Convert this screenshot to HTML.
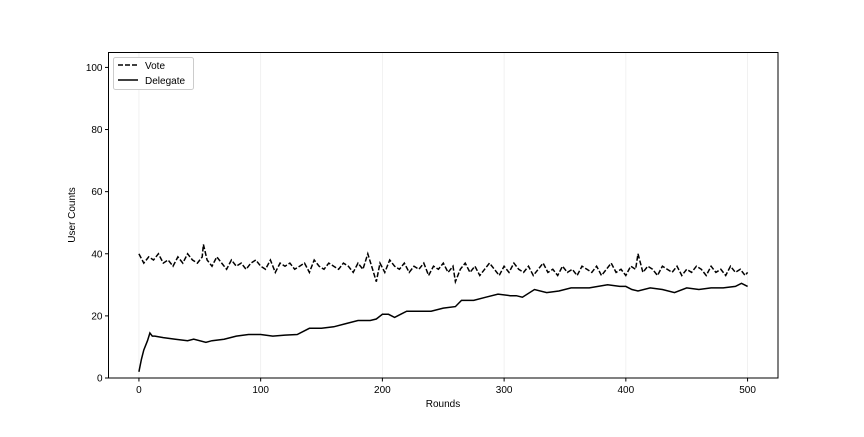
<!DOCTYPE html>
<html><head><meta charset="utf-8">
<style>
body{margin:0;background:#fff;font-family:"Liberation Sans",sans-serif;}
svg text{font-family:"Liberation Sans",sans-serif;font-size:10px;fill:#000;}
</style></head>
<body>
<svg id="chart" width="864" height="432">
<rect x="0" y="0" width="864" height="432" fill="#fff"/>
<g id="grid"></g>
<g id="series"></g>
<rect x="108.5" y="52.5" width="669.5" height="325.5" fill="none" stroke="#000" stroke-width="1"/>
<g id="xticks"></g>
<g id="yticks"></g>
<text x="443" y="407" text-anchor="middle">Rounds</text>
<text transform="translate(75,215) rotate(-90)" text-anchor="middle">User Counts</text>
<g>
<rect x="113.5" y="57.5" width="80" height="32" rx="2" fill="#fff" stroke="#ccc"/>
<g>
<line x1="118" y1="65" x2="138" y2="65" stroke="#000" stroke-width="1.5" stroke-dasharray="5,2"/>
<text x="145" y="69">Vote</text></g>
<g>
<line x1="118" y1="80" x2="138" y2="80" stroke="#000" stroke-width="1.5"/>
<text x="145" y="84">Delegate</text></g>
</g>
</svg>
<script>
const xTicks=[0,100,200,300,400,500];
const yTicks=[0,20,40,60,80,100];
const voteRounds=[0,4,8,12,16,20,24,28,32,36,40,44,48,52,53,56,60,64,68,72,76,80,84,88,92,96,100,104,108,112,116,120,124,128,132,136,140,144,148,152,156,160,164,168,172,176,180,184,188,192,195,198,202,206,210,214,218,222,226,230,234,238,242,246,250,254,258,260,264,268,272,276,280,284,288,292,296,300,304,308,312,316,320,324,328,332,336,340,344,348,352,356,360,364,368,372,376,380,384,388,392,396,400,404,408,410,414,418,422,426,430,434,438,442,446,450,454,458,462,466,470,474,478,482,486,490,494,498,500];
const voteValues=[40,37,39,38,40,37,38,36,39,37,40,38,37,39,43,38,36,39,37,35,38,36,37,35,37,38,36,35,38,34,37,36,37,35,36,37,34,38,36,35,37,36,35,37,36,34,37,35,40,35,31,37,34,38,36,35,37,34,36,35,37,33,36,35,37,34,36,31,35,37,34,36,33,35,37,35,33,36,34,37,35,34,36,33,35,37,34,35,33,36,34,35,33,36,35,34,36,33,35,37,34,35,33,36,35,40,34,36,35,33,36,35,34,36,33,35,34,36,35,33,36,34,35,33,36,34,35,33,34];
const delegateRounds=[0,2,4,7,9,11,13,20,30,40,45,55,60,70,80,90,100,110,120,130,140,150,160,170,180,190,195,200,205,210,215,220,230,240,250,260,265,275,285,295,305,310,315,325,335,345,355,370,385,395,400,405,410,420,430,440,450,460,470,480,490,495,500];
const delegateValues=[2,6,9,12,14.5,13.5,13.5,13,12.5,12,12.5,11.5,12,12.5,13.5,14,14,13.5,13.8,14,16,16,16.5,17.5,18.5,18.5,19,20.5,20.5,19.5,20.5,21.5,21.5,21.5,22.5,23,25,25,26,27,26.5,26.5,26,28.5,27.5,28,29,29,30,29.5,29.5,28.5,28,29,28.5,27.5,29,28.5,29,29,29.5,30.5,29.5];
const NS="http://www.w3.org/2000/svg";
const X0=108.5,X1=778,Y0=378,Y1=52.5;
const xMin=-25,xMax=525,yMin=0,yMax=104.8;
const sx=v=>X0+(v-xMin)/(xMax-xMin)*(X1-X0);
const sy=v=>Y0-(v-yMin)/(yMax-yMin)*(Y0-Y1);
function mk(tag,attrs,parent){const e=document.createElementNS(NS,tag);for(const k in attrs)e.setAttribute(k,attrs[k]);parent.appendChild(e);return e;}
const grid=document.getElementById('grid'),xt=document.getElementById('xticks'),yt=document.getElementById('yticks'),ser=document.getElementById('series');
xTicks.forEach(t=>{
  const x=sx(t);
  const g=mk('line',{x1:x,y1:Y1,x2:x,y2:Y0,stroke:'#ddd','stroke-width':0.8,'stroke-dasharray':'1,1'},grid);
  
  
  const l=mk('line',{x1:x,y1:Y0,x2:x,y2:Y0+3.5,stroke:'#000'},xt);
  
  
  const tx=mk('text',{x:x,y:Y0+15,'text-anchor':'middle'},xt);tx.textContent=t;
  
  
});
yTicks.forEach(t=>{
  const y=sy(t);
  const l=mk('line',{x1:X0-3.5,y1:y,x2:X0,y2:y,stroke:'#000'},yt);
  
  
  const tx=mk('text',{x:X0-6,y:y+3.5,'text-anchor':'end'},yt);tx.textContent=t;
  
  
});
function path(xs,ys){return xs.map((x,i)=>(i?'L':'M')+sx(x).toFixed(1)+','+sy(ys[i]).toFixed(1)).join('');}
const pv=mk('path',{d:path(voteRounds,voteValues),fill:'none',stroke:'#000','stroke-width':1.5,'stroke-dasharray':'5,2'},ser);


const pd=mk('path',{d:path(delegateRounds,delegateValues),fill:'none',stroke:'#000','stroke-width':1.5},ser);


</script>
</body></html>
